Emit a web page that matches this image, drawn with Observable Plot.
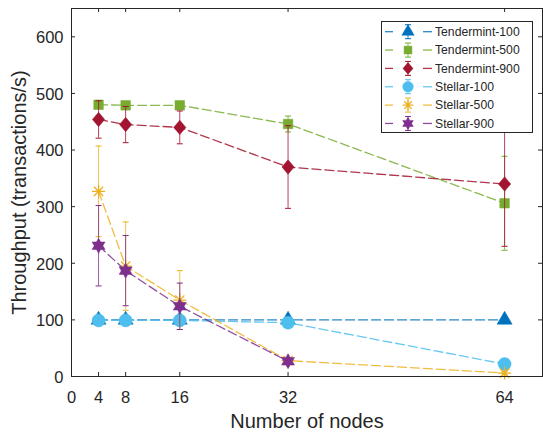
<!DOCTYPE html>
<html><head><meta charset="utf-8">
<script src="https://cdn.jsdelivr.net/npm/d3@7"></script>
<script src="https://cdn.jsdelivr.net/npm/@observablehq/plot@0.6"></script>
<style>
body{margin:0;background:#fff}
#chart{position:relative;width:543px;height:435px}
</style>
</head><body><div id="chart"></div>
<script>
// ---- data ----
const nodes = [4, 8, 16, 32, 64];
const seriesNames = ["Tendermint-100", "Tendermint-500", "Tendermint-900", "Stellar-100", "Stellar-500", "Stellar-900"];
const tm100 = [100, 100, 100, 100, 100];
const tm100Err = [2, 2, 2, 2, 2];
const tm500 = [480, 479, 479, 446, 306];
const tm500Err = [5, 4, 4, 14, 83];
const tm900 = [454, 445, 440, 370, 340];
const tm900Err = [33, 32, 29, 73, 110];
const st100 = [99, 99, 99, 95, 22];
const st100Err = [3, 3, 3, 3, 3];
const st500 = [327, 195, 135, 28, 6];
const st500Err = [80, 78, 52, 4, 3];
const st900 = [231, 187, 124, 27];
const st900Err = [71, 62, 41, 3];
const xTickValues = [0, 4, 8, 16, 32, 64];
const yTickValues = [0, 100, 200, 300, 400, 500, 600];
const colors = ["#0072BD", "#77AC30", "#A2142F", "#4DBEEE", "#EDB120", "#7E2F8E"];

const seriesValues = [tm100, tm500, tm900, st100, st500, st900];
const seriesErrors = [tm100Err, tm500Err, tm900Err, st100Err, st500Err, st900Err];

// ---- custom symbols ----
const capSymbol = {draw(ctx, size){ const r = Math.sqrt(size/Math.PI); ctx.moveTo(-r,0); ctx.lineTo(r,0); }};
const asteriskSymbol = {draw(ctx, size){ const r = Math.sqrt(size/Math.PI); const d = r*0.7071;
  ctx.moveTo(-r,0); ctx.lineTo(r,0); ctx.moveTo(0,-r); ctx.lineTo(0,r);
  ctx.moveTo(-d,-d); ctx.lineTo(d,d); ctx.moveTo(-d,d); ctx.lineTo(d,-d); }};
const hexagramSymbol = {draw(ctx, size){ const R = Math.sqrt(size/Math.PI); const ri = R/Math.sqrt(3);
  for (let k=0;k<12;k++){ const a = -Math.PI/2 + k*Math.PI/6; const rr = k%2===0 ? R : ri;
    const px = rr*Math.cos(a), py = rr*Math.sin(a); if(k===0) ctx.moveTo(px,py); else ctx.lineTo(px,py);} ctx.closePath(); }};
// MATLAB-like diamond: slightly taller than wide
const diamondSymbol = {draw(ctx, size){ const R = Math.sqrt(size/Math.PI); const w = R*0.85;
  ctx.moveTo(0,-R); ctx.lineTo(w,0); ctx.lineTo(0,R); ctx.lineTo(-w,0); ctx.closePath(); }};
const markerSpecs = [
  {symbol: "triangle", r: 5.6, filled: true},
  {symbol: "square", r: 5.4, filled: true},
  {symbol: diamondSymbol, r: 7.2, filled: true},
  {symbol: "circle", r: 6.5, filled: true},
  {symbol: asteriskSymbol, r: 6.5, filled: false},
  {symbol: hexagramSymbol, r: 7.5, filled: true}
];

const X_MAX = 69.6, Y_MAX = 650;
const W = 543, H = 435, ML = 71, MR = 1, MT = 8, MB = 59;
const tickPxX = 4, tickPxY = 4;
const tickLenY = Y_MAX * tickPxY / (H - MT - MB);
const tickLenX = X_MAX * tickPxX / (W - ML - MR);
const ink = "#262626";
const fontFam = "'Liberation Sans', Arial, sans-serif";

const marks = [];
seriesNames.forEach((name, i) => {
  const vals = seriesValues[i], errs = seriesErrors[i];
  const rows = vals.map((v, j) => ({series: name, x: nodes[j], y: v, err: errs[j]}));
  const c = colors[i], m = markerSpecs[i];
  marks.push(Plot.line(rows, {x: "x", y: "y", stroke: c, strokeWidth: 1.3, strokeDasharray: "9,4", strokeOpacity: 0.85}));
  marks.push(Plot.ruleX(rows, {x: "x", y1: d => d.y - d.err, y2: d => d.y + d.err, stroke: c, strokeWidth: 1, strokeOpacity: 0.8}));
  marks.push(Plot.dot(rows, {x: "x", y: d => d.y + d.err, symbol: capSymbol, r: 3, stroke: c, strokeWidth: 1, fill: "none"}));
  marks.push(Plot.dot(rows, {x: "x", y: d => d.y - d.err, symbol: capSymbol, r: 3, stroke: c, strokeWidth: 1, fill: "none"}));
  if (m.filled) marks.push(Plot.dot(rows, {x: "x", y: "y", symbol: m.symbol, r: m.r, fill: c, stroke: c, strokeWidth: 0.5}));
  else marks.push(Plot.dot(rows, {x: "x", y: "y", symbol: m.symbol, r: m.r, fill: "none", stroke: c, strokeWidth: 1.3}));
});

const plot = Plot.plot({
  width: W, height: H,
  marginLeft: ML, marginRight: MR, marginTop: MT, marginBottom: MB,
  style: {fontFamily: fontFam, fontSize: "16.5px", color: ink, background: "white"},
  x: {domain: [0, X_MAX]},
  y: {domain: [0, Y_MAX]},
  marks: [
    Plot.axisX({ticks: xTickValues, tickSize: 0, tickPadding: 15, label: null, fontSize: 16.5, tickFormat: d => String(d)}),
    Plot.axisY({ticks: yTickValues, tickSize: 0, tickPadding: 8, dy: 1, label: null, fontSize: 16.5, tickFormat: d => String(d)}),
    Plot.ruleX(xTickValues.filter(v => v > 0), {x: d => d, y1: 0, y2: tickLenY, stroke: ink, strokeWidth: 1}),
    Plot.ruleX(xTickValues.filter(v => v > 0), {x: d => d, y1: Y_MAX - tickLenY, y2: Y_MAX, stroke: ink, strokeWidth: 1}),
    Plot.ruleY(yTickValues.filter(v => v > 0), {y: d => d, x1: 0, x2: tickLenX, stroke: ink, strokeWidth: 1}),
    Plot.ruleY(yTickValues.filter(v => v > 0), {y: d => d, x1: X_MAX - tickLenX, x2: X_MAX, stroke: ink, strokeWidth: 1}),
    ...marks,
    Plot.frame({stroke: ink, strokeWidth: 1}),
    Plot.text(["Throughput (transactions/s)"], {frameAnchor: "left", textAnchor: "middle", lineAnchor: "middle", dx: -52, rotate: -90, fontSize: 20, fill: ink}),
    Plot.text(["Number of nodes"], {frameAnchor: "bottom", textAnchor: "middle", lineAnchor: "middle", dy: 45, fontSize: 20, fill: ink})
  ]
});
document.getElementById("chart").appendChild(plot);

// ---- legend ----
const svg = d3.select(plot);
const lg = svg.append("g").attr("font-family", fontFam).attr("font-size", 12.2).attr("text-anchor", "start");
lg.append("rect").attr("x", 381.5).attr("y", 21.5).attr("width", 151).attr("height", 111)
  .attr("fill", "white").attr("stroke", ink).attr("stroke-width", 1);
const symMap = {triangle: d3.symbolTriangle, square: d3.symbolSquare, circle: d3.symbolCircle};
seriesNames.forEach((name, i) => {
  const y = 31.7 + i * 18.35, c = colors[i], m = markerSpecs[i], mx = 408;
  const g = lg.append("g");
  [[385, 393], [423, 432]].forEach(([a, b]) => g.append("line").attr("x1", a).attr("x2", b).attr("y1", y).attr("y2", y)
    .attr("stroke", c).attr("stroke-width", 1.3).attr("stroke-opacity", 0.85));
  g.append("line").attr("x1", mx).attr("x2", mx).attr("y1", y - 7).attr("y2", y + 7).attr("stroke", c).attr("stroke-width", 1).attr("stroke-opacity", 0.8);
  [y - 7, y + 7].forEach(yy => g.append("line").attr("x1", mx - 3).attr("x2", mx + 3).attr("y1", yy).attr("y2", yy).attr("stroke", c).attr("stroke-width", 1));
  const symType = typeof m.symbol === "string" ? symMap[m.symbol] : m.symbol;
  const lr = m.r * 0.82;
  const path = d3.symbol(symType, Math.PI * lr * lr)();
  const p = g.append("path").attr("d", path).attr("transform", `translate(${mx},${y})`);
  if (m.filled) p.attr("fill", c).attr("stroke", c).attr("stroke-width", 0.5);
  else p.attr("fill", "none").attr("stroke", c).attr("stroke-width", 1.3);
  g.append("text").attr("x", 435).attr("y", y).attr("dy", "0.35em").attr("text-anchor", "start").attr("fill", ink).text(name);
});
</script>
</body></html>
